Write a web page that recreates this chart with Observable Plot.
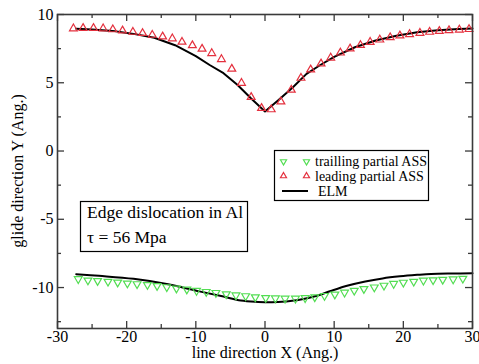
<!DOCTYPE html>
<html><head><meta charset="utf-8">
<script src="https://cdn.jsdelivr.net/npm/d3@7"></script>
<script src="https://cdn.jsdelivr.net/npm/@observablehq/plot@0.6"></script>
<style>html,body{margin:0;padding:0;background:#fff} svg{display:block}</style>
</head><body><div id="chart"></div>
<script>
// ---- data ----
const leadingX = [-27.7,-26.3,-24.8,-23.4,-22.0,-20.6,-19.1,-17.7,-16.3,-14.8,-13.4,-12.0,-10.5,-9.1,-7.7,-6.3,-4.8,-3.4,-2.0,-0.5,0.9,2.3,3.8,5.2,6.6,8.1,9.5,10.9,12.3,13.8,15.2,16.6,18.1,19.5,20.9,22.4,23.8,25.2,26.6,28.1,29.5];
const leadingY = [8.97,9.0,9.0,8.97,8.9,8.82,8.72,8.63,8.5,8.38,8.24,7.99,7.74,7.48,7.16,6.72,6.02,4.98,3.95,3.14,3.04,3.62,4.48,5.35,5.96,6.4,6.83,7.2,7.5,7.75,7.98,8.15,8.32,8.45,8.55,8.64,8.72,8.78,8.84,8.88,8.92];
const trailingX = [-27.0,-25.6,-24.2,-22.7,-21.3,-19.9,-18.5,-17.0,-15.6,-14.2,-12.8,-11.3,-9.9,-8.5,-7.1,-5.6,-4.2,-2.8,-1.4,0.1,1.5,2.9,4.4,5.8,7.2,8.6,10.1,11.5,12.9,14.3,15.8,17.2,18.6,20.0,21.5,22.9,24.3,25.7,27.2,28.6];
const trailingY = [-9.37,-9.47,-9.51,-9.56,-9.62,-9.69,-9.74,-9.8,-9.88,-9.96,-10.06,-10.13,-10.23,-10.31,-10.38,-10.48,-10.56,-10.62,-10.7,-10.75,-10.78,-10.8,-10.8,-10.76,-10.7,-10.6,-10.5,-10.36,-10.22,-10.1,-9.98,-9.85,-9.72,-9.63,-9.56,-9.48,-9.45,-9.42,-9.39,-9.34];
const elmUpperX = [-27.3,-25,-22,-19,-16,-13,-10,-8,-6,-4,-2,0,2,4,6,8,10,13,16,19,22,25,28,30];
const elmUpperY = [8.95,8.9,8.8,8.58,8.3,7.75,6.95,6.3,5.7,4.85,3.85,2.9,3.75,4.65,5.65,6.3,6.9,7.6,8.1,8.45,8.7,8.85,8.93,8.97];
const elmLowerX = [-27.3,-24,-19,-14,-9.5,-6,-3.5,-1,1,3,5,7.5,9.5,12,14.5,17,19.5,22,24,27,30];
const elmLowerY = [-9.02,-9.14,-9.36,-9.76,-10.28,-10.66,-10.95,-11.05,-11.08,-11.02,-10.9,-10.6,-10.25,-9.85,-9.55,-9.33,-9.18,-9.07,-9.0,-8.97,-8.96];
const xMajor = [-30,-20,-10,0,10,20,30];
const xMinor = [-25,-15,-5,5,15,25];
const yMajor = [-10,-5,0,5,10];
const yMinor = [-12.5,-7.5,-2.5,2.5,7.5];
const legendLabels = ["trailling partial ASS","leading partial ASS","ELM"];
const xTitle = "line direction X (Ang.)";
const yTitle = "glide direction Y (Ang.)";
const noteLines = ["Edge dislocation in Al","\u03c4 = 56 Mpa"];

// ---- layout ----
const W = 479, H = 364, mL = 57, mR = 7, mT = 14, mB = 36;
const iW = W - mL - mR, iH = H - mT - mB;
const RED = "#e4303e", GREEN = "#52dd52", FRAME = "#3a3a3a";
const R = 2.9;
const pts = (xs, ys) => xs.map((x, i) => ({x, y: ys[i]}));
const font = "'Liberation Serif','Times New Roman',serif";

const svg = Plot.plot({
  width: W, height: H,
  marginLeft: mL, marginRight: mR, marginTop: mT, marginBottom: mB,
  style: {fontFamily: font, fontSize: "16px", background: "#fff", color: "#000"},
  x: {domain: [-30, 30]},
  y: {domain: [-13, 10]},
  marks: [
    Plot.line(pts(elmUpperX, elmUpperY), {x: "x", y: "y", stroke: "#000", strokeWidth: 2, curve: "linear"}),
    Plot.line(pts(elmLowerX, elmLowerY), {x: "x", y: "y", stroke: "#000", strokeWidth: 2, curve: "catmull-rom"}),
    Plot.dot(pts(leadingX, leadingY), {x: "x", y: "y", symbol: "triangle", r: R, stroke: RED, strokeWidth: 1.2}),
    Plot.dot(pts(trailingX, trailingY), {x: "x", y: "y", symbol: "triangle", rotate: 180, r: R, stroke: GREEN, strokeWidth: 1.2}),
    Plot.tickX(xMajor, {x: d => d, insetTop: iH - 7, stroke: FRAME, strokeWidth: 1.3}),
    Plot.tickX(xMajor, {x: d => d, insetBottom: iH - 7, stroke: FRAME, strokeWidth: 1.3}),
    Plot.tickX(xMinor, {x: d => d, insetTop: iH - 4, stroke: FRAME, strokeWidth: 1.3}),
    Plot.tickX(xMinor, {x: d => d, insetBottom: iH - 4, stroke: FRAME, strokeWidth: 1.3}),
    Plot.tickY(yMajor, {y: d => d, insetRight: iW - 7, stroke: FRAME, strokeWidth: 1.3}),
    Plot.tickY(yMajor, {y: d => d, insetLeft: iW - 7, stroke: FRAME, strokeWidth: 1.3}),
    Plot.tickY(yMinor, {y: d => d, insetRight: iW - 4, stroke: FRAME, strokeWidth: 1.3}),
    Plot.tickY(yMinor, {y: d => d, insetLeft: iW - 4, stroke: FRAME, strokeWidth: 1.3}),
    Plot.axisX({ticks: xMajor, tickSize: 0, tickPadding: 2, tickFormat: d => String(d), label: null, fontSize: 16}),
    Plot.axisY({ticks: yMajor, tickSize: 0, tickPadding: 4, tickFormat: d => String(d), label: null, fontSize: 16}),
    Plot.frame({stroke: FRAME, strokeWidth: 1.6})
  ]
});
document.getElementById("chart").append(svg);

// ---- titles, legend and note ----
const s = d3.select(svg);
s.append("text").attr("x", 265).attr("y", 358).attr("text-anchor", "middle")
  .attr("font-family", font).attr("font-size", 16).attr("fill", "#000").text(xTitle);
s.append("text").attr("transform", "translate(23,171) rotate(-90)").attr("text-anchor", "middle")
  .attr("font-family", font).attr("font-size", 16).attr("fill", "#000").text(yTitle);

const lg = s.append("g");
lg.append("rect").attr("x", 274.5).attr("y", 150.5).attr("width", 154).attr("height", 50)
  .attr("fill", "#fff").attr("stroke", "#000").attr("stroke-width", 1.2);
const tri = d3.symbol(d3.symbolTriangle2, Math.PI * R * R)();
[283.5, 306.5].forEach(x => {
  lg.append("path").attr("d", tri).attr("transform", `translate(${x},161.5) rotate(180)`)
    .attr("fill", "none").attr("stroke", GREEN).attr("stroke-width", 1.2);
  lg.append("path").attr("d", tri).attr("transform", `translate(${x},176)`)
    .attr("fill", "none").attr("stroke", RED).attr("stroke-width", 1.2);
});
lg.append("line").attr("x1", 282).attr("x2", 308).attr("y1", 191).attr("y2", 191)
  .attr("stroke", "#000").attr("stroke-width", 2);
const lgY = [165.5, 180.5, 195.5], lgX = [315, 315, 318];
legendLabels.forEach((t, i) => {
  lg.append("text").attr("x", lgX[i]).attr("y", lgY[i]).attr("text-anchor", "start")
    .attr("font-family", font).attr("font-size", 14).attr("fill", "#000").text(t);
});

const nt = s.append("g");
nt.append("rect").attr("x", 80.5).attr("y", 201.5).attr("width", 167).attr("height", 50)
  .attr("fill", "#fff").attr("stroke", "#000").attr("stroke-width", 1.2);
noteLines.forEach((t, i) => {
  nt.append("text").attr("x", 87).attr("y", i === 0 ? 217.5 : 243).attr("text-anchor", "start")
    .attr("font-family", font).attr("font-size", 17.5).attr("fill", "#000").text(t);
});
</script>
</body></html>
